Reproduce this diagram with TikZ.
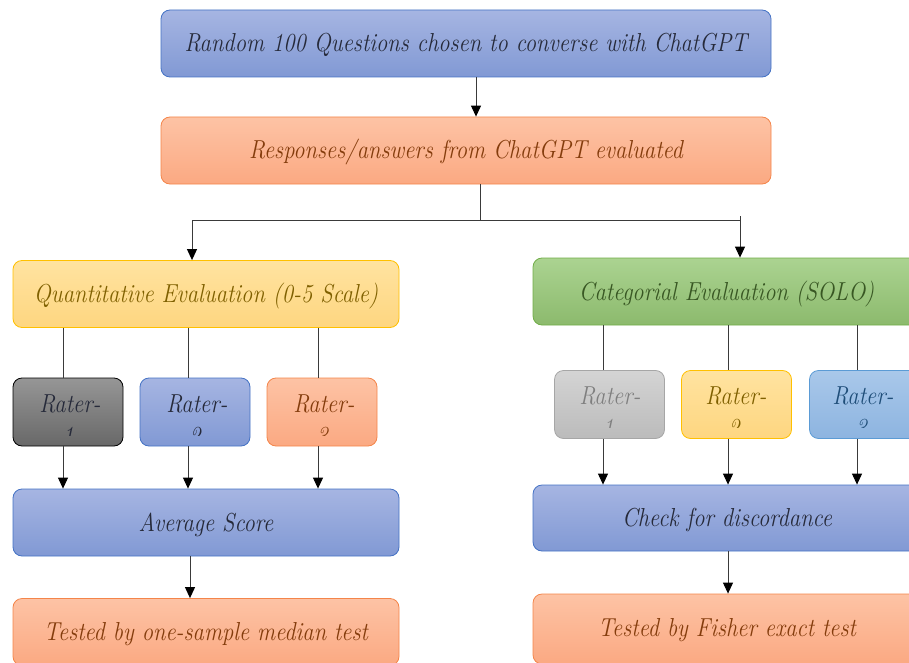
\documentclass[tikz,border=0pt]{standalone}
\usepackage{fontspec}
\usetikzlibrary{arrows.meta}
\newcommand\squeezetxt[1]{\scalebox{0.87}[1]{#1}}
\definecolor{blueT}{HTML}{A6B5E2}
\definecolor{blueB}{HTML}{8199D4}
\definecolor{blueD}{HTML}{4472C4}
\definecolor{orT}{HTML}{FDC3A5}
\definecolor{orB}{HTML}{FBA982}
\definecolor{orD}{HTML}{F4854A}
\definecolor{orTx}{HTML}{843C0C}
\definecolor{yeT}{HTML}{FFE3A0}
\definecolor{yeB}{HTML}{FED680}
\definecolor{yeD}{HTML}{FFC000}
\definecolor{yeTx}{HTML}{7F6000}
\definecolor{grT}{HTML}{ABD391}
\definecolor{grB}{HTML}{8CBA6D}
\definecolor{grD}{HTML}{70AD47}
\definecolor{grTx}{HTML}{385723}
\definecolor{dgT}{HTML}{969696}
\definecolor{dgB}{HTML}{686868}
\definecolor{lgT}{HTML}{D4D4D4}
\definecolor{lgB}{HTML}{BBBBBB}
\definecolor{lgD}{HTML}{A6A6A6}
\definecolor{lgTx}{HTML}{7F7F7F}
\definecolor{lbT}{HTML}{A9C8EA}
\definecolor{lbB}{HTML}{8DB4E0}
\definecolor{lbD}{HTML}{5B9BD5}
\definecolor{lbTx}{HTML}{1F4E79}
\definecolor{txD}{HTML}{262A3A}
\definecolor{lnC}{HTML}{3A3A3A}
\begin{document}
\begin{tikzpicture}[x=1pt,y=-1pt,
  box/.style={rounded corners=9pt, line width=0.8pt, inner sep=0pt,
    text height=17pt, text depth=0pt,
    font=\rmfamily\fontsize{26}{30}\selectfont\itshape},
  bluebox/.style={box, draw=blueD, top color=blueT, bottom color=blueB, text=txD},
  orbox/.style={box, draw=orD, top color=orT, bottom color=orB, text=orTx},
  yebox/.style={box, draw=yeD, top color=yeT, bottom color=yeB, text=yeTx},
  grbox/.style={box, draw=grD, top color=grT, bottom color=grB, text=grTx},
  dgbox/.style={box, draw=black, top color=dgT, bottom color=dgB},
  lgbox/.style={box, draw=lgD, top color=lgT, bottom color=lgB},
  lbbox/.style={box, draw=lbD, top color=lbT, bottom color=lbB},
  wide/.style={minimum width=386, minimum height=67},
  rater/.style={minimum width=110, minimum height=68},
  rtxt/.style={font=\rmfamily\fontsize{26}{30}\selectfont\itshape, inner sep=0pt, anchor=base},
  arr/.style={draw=lnC, -{Triangle[length=11pt,width=10pt,fill=black,color=black]}, line width=1pt},
  ln/.style={draw=lnC, line width=1pt}
]
\useasboundingbox (0,0) rectangle (909,663);
\clip (0,0) rectangle (909,663);

\node[bluebox, minimum width=610, minimum height=67] (top) at (466,43.5) {\squeezetxt{Random 100 Questions chosen to converse with ChatGPT}};
\node[orbox, minimum width=610, minimum height=67] (resp) at (466,150.5) {\squeezetxt{Responses/answers from ChatGPT evaluated}};

\node[yebox, wide] (quant) at (206,294) {\squeezetxt{Quantitative Evaluation (0-5 Scale)}};
\node[grbox, minimum width=400, minimum height=67] (cat) at (733,291.5) {};
\node[rtxt, text=grTx] (catt) at (726.5,300) {\squeezetxt{Categorial Evaluation (SOLO)}};

% left raters
\node[dgbox, rater] (l1) at (68,412) {};
\node[bluebox, rater] (l2) at (195,412) {};
\node[orbox, rater] (l3) at (322,412) {};
% right raters
\node[lgbox, rater] (r1) at (609.5,404.5) {};
\node[yebox, rater] (r2) at (736.5,404.5) {};
\node[lbbox, rater] (r3) at (864.5,404.5) {};

\begin{scope}
\clip (0,370) rectangle (909,435);
\node[rtxt, text=txD] (l1a) at (70,412) {\squeezetxt{Rater-}};
\node[rtxt, text=txD] (l1b) at (68,444) {\squeezetxt{1}};
\node[rtxt, text=txD] (l2a) at (197,412) {\squeezetxt{Rater-}};
\node[rtxt, text=txD] (l2b) at (195,444) {\squeezetxt{2}};
\node[rtxt, text=orTx] (l3a) at (324,412) {\squeezetxt{Rater-}};
\node[rtxt, text=orTx] (l3b) at (322,444) {\squeezetxt{3}};
\end{scope}
\begin{scope}
\clip (0,365) rectangle (909,427.5);
\node[rtxt, text=lgTx] (r1a) at (610,404.5) {\squeezetxt{Rater-}};
\node[rtxt, text=lgTx] (r1b) at (608,436.5) {\squeezetxt{1}};
\node[rtxt, text=yeTx] (r2a) at (736,404.5) {\squeezetxt{Rater-}};
\node[rtxt, text=yeTx] (r2b) at (734,436.5) {\squeezetxt{2}};
\node[rtxt, text=lbTx] (r3a) at (863,404.5) {\squeezetxt{Rater-}};
\node[rtxt, text=lbTx] (r3b) at (861,436.5) {\squeezetxt{3}};
\end{scope}

\node[bluebox, wide] (avg) at (206,522.5) {\squeezetxt{Average Score}};
\node[orbox, wide] (med) at (206,632) {\squeezetxt{Tested by one-sample median test}};
\node[bluebox, minimum width=400, minimum height=66] (disc) at (733,518) {};
\node[rtxt, text=txD] (disct) at (727,526.5) {\squeezetxt{Check for discordance}};
\node[orbox, minimum width=400, minimum height=70] (fish) at (733,629) {};
\node[rtxt, text=orTx] (fisht) at (727,636.5) {\squeezetxt{Tested by Fisher exact test}};

% connectors
\draw[arr] ([xshift=10pt]top.south) -- ([xshift=10pt]resp.north);
\draw[ln] ([xshift=14pt]resp.south) -- ++(0,36) coordinate (j);
\coordinate (jL) at (192,220);
\coordinate (jR) at (740,220);
\draw[ln] (jL) -- (jR);
\draw[ln] (jR) -- ++(0,-4);
\draw[arr] (jL) -- (quant.north -| jL);
\draw[arr] (jR) -- (cat.north -| jR);

\foreach \n/\x in {l1/63,l2/188,l3/318}{
  \draw[ln] (quant.south -| \x,0) -- (\n.north -| \x,0);
  \draw[arr] (\n.south -| \x,0) -- (avg.north -| \x,0);
}
\foreach \n/\x in {r1/603,r2/728,r3/857}{
  \draw[ln] (cat.south -| \x,0) -- (\n.north -| \x,0);
  \draw[arr] (\n.south -| \x,0) -- (disc.north -| \x,0);
}
\draw[arr] ([xshift=-16pt]avg.south) -- ([xshift=-16pt]med.north);
\draw[arr] ([xshift=-5pt]disc.south) -- ([xshift=-5pt]fish.north);
\end{tikzpicture}
\end{document}
